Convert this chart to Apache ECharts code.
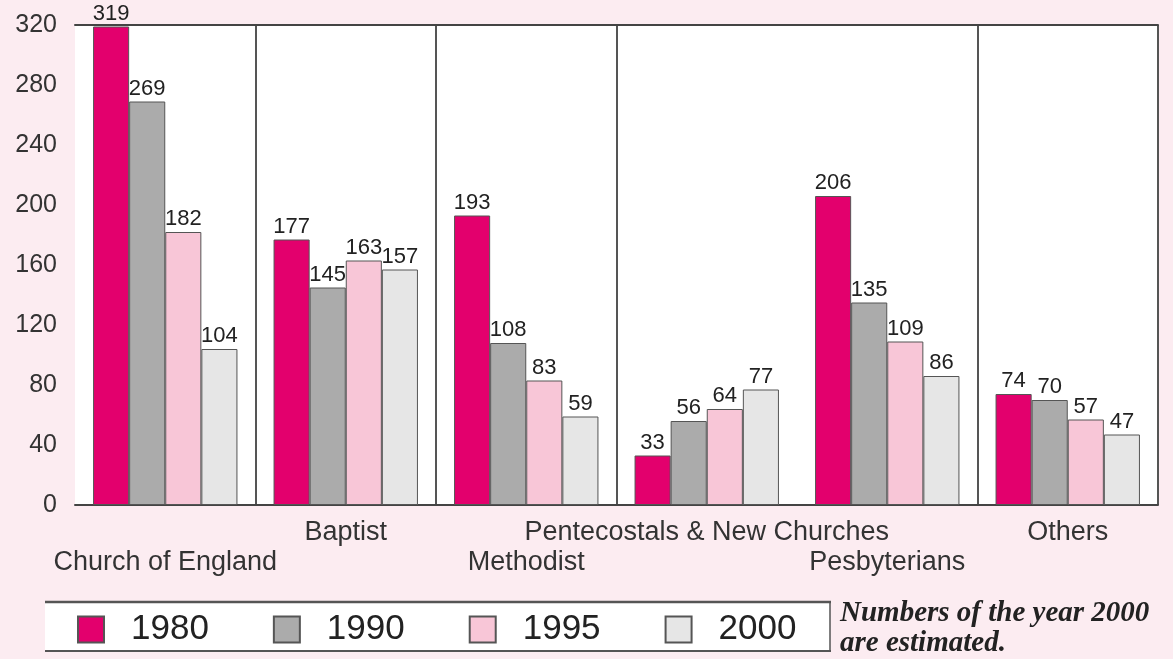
<!DOCTYPE html>
<html>
<head>
<meta charset="utf-8">
<script src="https://cdn.jsdelivr.net/npm/echarts@6/dist/echarts.min.js"></script>
<style>
html,body{margin:0;padding:0;background:#fcecf1;}
#main{width:1173px;height:659px;}
</style>
</head>
<body>
<div id="main"></div>
<script>
const categories = ['Church of England', 'Baptist', 'Methodist', 'Pentecostals & New Churches', 'Pesbyterians', 'Others'];
const years = ['1980', '1990', '1995', '2000'];
const values1980 = [319, 177, 193, 33, 206, 74];
const values1990 = [269, 145, 108, 56, 135, 70];
const values1995 = [182, 163, 83, 64, 109, 57];
const values2000 = [104, 157, 59, 77, 86, 47];
const yTicks = [0, 40, 80, 120, 160, 200, 240, 280, 320];
const noteLines = ['Numbers of the year 2000', 'are estimated.'];

const colors = ['#e3006d', '#ababab', '#f8c6d7', '#e6e6e6'];
const seriesValues = [values1980, values1990, values1995, values2000];
const FONT = '"Liberation Sans", Arial, sans-serif';

const chart = echarts.init(document.getElementById('main'));
const series = years.map((y, i) => ({
  name: y,
  type: 'bar',
  xAxisIndex: 0,
  data: seriesValues[i],
  barGap: 0,
  barCategoryGap: '20%',
  itemStyle: { color: colors[i], borderColor: '#555', borderWidth: 1 },
  label: { show: true, position: 'top', distance: 2, fontSize: 22, color: '#222', fontFamily: FONT }
}));

chart.setOption({
  backgroundColor: '#fcecf1',
  animation: false,
  grid: { left: 75, right: 15, top: 25, bottom: 154, show: true, backgroundColor: '#ffffff', borderWidth: 0 },
  xAxis: [{
    type: 'category',
    data: categories,
    position: 'bottom',
    axisLine: { show: true, lineStyle: { color: '#444', width: 2 } },
    axisTick: { show: false },
    splitLine: {
      show: true,
      interval: function (index) { return index === 1 || index === 2 || index === 3 || index === 5; },
      lineStyle: { color: '#555', width: 2 }
    },
    axisLabel: {
      interval: 0,
      fontSize: 27,
      color: '#333',
      fontFamily: FONT,
      lineHeight: 30,
      margin: 13,
      formatter: function (v, idx) { return idx % 2 === 0 ? '\n' + v : v + '\n'; }
    }
  }, {
    type: 'category',
    data: categories,
    position: 'top',
    axisLine: { show: true, lineStyle: { color: '#444', width: 2 } },
    axisTick: { show: false },
    axisLabel: { show: false },
    splitLine: { show: false }
  }],
  yAxis: {
    type: 'value',
    min: yTicks[0],
    max: yTicks[yTicks.length - 1],
    interval: 40,
    axisLine: { show: false },
    axisTick: { show: false },
    splitLine: { show: false },
    axisLabel: { fontSize: 25, color: '#333', fontFamily: FONT, margin: 18 }
  },
  legend: {
    data: years,
    left: 72,
    top: 607,
    icon: 'rect',
    itemWidth: 26,
    itemHeight: 26,
    itemGap: 64,
    textStyle: { fontSize: 35, color: '#222', fontFamily: FONT, padding: [0, 0, 0, 22] }
  },
  graphic: [
    { type: 'rect', z: 0, shape: { x: 45, y: 602, width: 785, height: 49 }, style: { fill: '#ffffff' } },
    { type: 'line', z: 1, shape: { x1: 45, y1: 602, x2: 831, y2: 602 }, style: { stroke: '#555', lineWidth: 2.5 } },
    { type: 'line', z: 1, shape: { x1: 45, y1: 651, x2: 831, y2: 651 }, style: { stroke: '#555', lineWidth: 2 } },
    { type: 'line', z: 1, shape: { x1: 830, y1: 602, x2: 830, y2: 651 }, style: { stroke: '#555', lineWidth: 1.5 } },
    { type: 'text', z: 1, left: 840, top: 599, style: { text: noteLines[0], font: 'italic bold 29px "Liberation Serif", "Times New Roman", serif', fill: '#222' } },
    { type: 'text', z: 1, left: 840, top: 629, style: { text: noteLines[1], font: 'italic bold 29px "Liberation Serif", "Times New Roman", serif', fill: '#222' } }
  ],
  series: series
});
</script>
</body>
</html>
